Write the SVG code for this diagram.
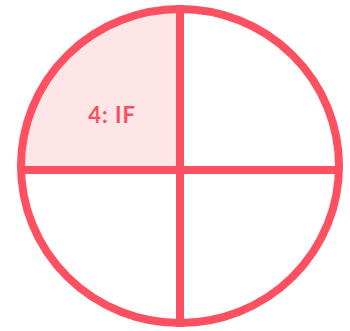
<svg xmlns="http://www.w3.org/2000/svg" width="350" height="331" viewBox="0 0 350 331">
  <style>
    .ln { stroke: #FF5061; stroke-width: 8; fill: none; }
    .lbl { font-family: "Lato", "Noto Sans", sans-serif; font-weight: bold; font-size: 22px; fill: #F9505F; letter-spacing: 1px; }
  </style>
  <defs>
    <clipPath id="circ"><ellipse cx="180" cy="166" rx="159" ry="157"/></clipPath>
  </defs>
  <g id="quadrant-4">
    <rect x="0" y="0" width="180" height="170" fill="#FFE6E6" clip-path="url(#circ)"/>
    <text class="lbl" x="112" y="123" text-anchor="middle">4: IF</text>
  </g>
  <g id="connectors">
    <line class="ln" x1="180" y1="5" x2="180" y2="327"/>
    <line class="ln" x1="20" y1="170" x2="340" y2="170"/>
  </g>
  <g id="outline">
    <ellipse class="ln" cx="180" cy="166" rx="159" ry="157"/>
  </g>
</svg>
